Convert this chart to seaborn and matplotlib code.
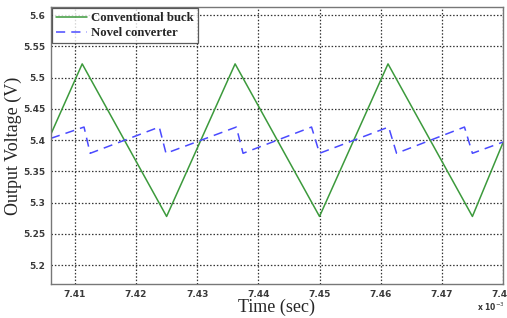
import matplotlib
matplotlib.use("Agg")
import matplotlib.pyplot as plt
import seaborn as sns
import pandas as pd

# time in units of 1e-3 s
buck_t = [7.4061, 7.4112, 7.4250, 7.4362, 7.4500, 7.4612, 7.4750, 7.4800]
buck_v = [5.410, 5.522, 5.278, 5.522, 5.278, 5.522, 5.278, 5.396]

novel_t = [7.4061, 7.4115, 7.4125, 7.4238, 7.4249, 7.4364, 7.4375,
           7.4487, 7.4500, 7.4613, 7.4626, 7.4737, 7.4750, 7.4800]
novel_v = [5.403, 5.421, 5.379, 5.421, 5.379, 5.421, 5.379,
           5.421, 5.379, 5.421, 5.379, 5.421, 5.379, 5.397]

x_ticks = [7.41, 7.42, 7.43, 7.44, 7.45, 7.46, 7.47, 7.48]
y_ticks = [5.2, 5.25, 5.3, 5.35, 5.4, 5.45, 5.5, 5.55, 5.6]

sns.set_style("white")
plt.rcParams['font.family'] = ['DejaVu Sans']

df_buck = pd.DataFrame({'t': buck_t, 'v': buck_v})
df_novel = pd.DataFrame({'t': novel_t, 'v': novel_v})

fig = plt.figure(figsize=(5.07, 3.18), dpi=100)
ax = fig.add_axes([0.1006, 0.107, 0.8915, 0.871])

sns.lineplot(data=df_buck, x='t', y='v', ax=ax, color='#3c9a3c', lw=1.1,
             label='Conventional buck', estimator=None, sort=False)
sns.lineplot(data=df_novel, x='t', y='v', ax=ax, color='#4a4aff', lw=1.1,
             label='Novel converter', estimator=None, sort=False)
ax.lines[1].set_dashes([6, 4])

ax.set_xlim(7.4061, 7.48)
ax.set_ylim(5.17, 5.613)
ax.set_xticks(x_ticks)
ax.set_yticks(y_ticks)
ax.set_xticklabels([f'{t:g}' for t in x_ticks])
ax.set_yticklabels([f'{t:g}' for t in y_ticks])
ax.tick_params(labelsize=6.5, length=3, direction='in', pad=4)
for lab in ax.get_xticklabels() + ax.get_yticklabels():
    lab.set_fontweight('semibold')
    lab.set_color('#3a3a3a')

ax.grid(True, color='#333333', linestyle=(0, (1.2, 1.5)), lw=0.9)
for s in ax.spines.values():
    s.set_color('#777777')
    s.set_linewidth(1.0)

serif = ['Liberation Serif', 'DejaVu Serif']
ax.set_xlabel('Time (sec)', family=serif, fontsize=13, labelpad=0)
ax.set_ylabel('Output Voltage (V)', family=serif, fontsize=13, labelpad=1)
fig.text(0.995, 0.035, r'x 10$^{-3}$', ha='right', va='center', fontsize=5.5,
         color='#333333', fontweight='bold')

leg = ax.legend(loc='upper left', prop={'family': serif, 'size': 9.2},
                frameon=True, fancybox=False, borderaxespad=0.1,
                handlelength=2.4, handletextpad=0.35, borderpad=0.3,
                labelspacing=0.25)
leg.get_frame().set_edgecolor('#333333')
leg.get_frame().set_linewidth(0.9)
for txt in leg.get_texts():
    txt.set_fontweight('bold')

fig.savefig('out.png', dpi=100)
